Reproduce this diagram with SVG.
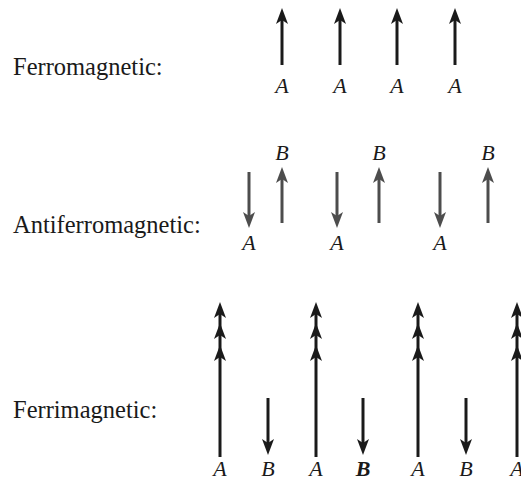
<svg xmlns="http://www.w3.org/2000/svg" width="521" height="481" viewBox="0 0 521 481">
<style>
.title{font-family:"Liberation Serif","Times New Roman",serif;font-size:24.5px;fill:#1a1a1a}
.lab{font-family:"Liberation Serif","Times New Roman",serif;font-size:22px;font-style:italic;fill:#1a1a1a;text-anchor:middle}
.bold{font-weight:bold}
.blk{stroke:#1a1a1a;stroke-width:3;fill:none;marker-end:url(#hb)}
.gry{stroke:#4d4d4d;stroke-width:3;fill:none;marker-end:url(#hg)}
.tri{stroke:#1a1a1a;stroke-width:3;fill:none;marker-mid:url(#hb);marker-end:url(#hb)}
</style>
<defs>
<marker id="hb" markerUnits="userSpaceOnUse" orient="auto" viewBox="-17 -7 18 14" markerWidth="18" markerHeight="14" refX="-12" refY="0" overflow="visible">
<path d="M0,0 L-16,-6 L-12,0 L-16,6 Z" fill="#1a1a1a"/>
</marker>
<marker id="hg" markerUnits="userSpaceOnUse" orient="auto" viewBox="-17 -7 18 14" markerWidth="18" markerHeight="14" refX="-12" refY="0" overflow="visible">
<path d="M0,0 L-16,-6 L-12,0 L-16,6 Z" fill="#4d4d4d"/>
</marker>
</defs>
<rect width="521" height="481" fill="#fff"/>
<g id="ferromagnetic">
<text class="title" x="13" y="75">Ferromagnetic:</text>
<text class="lab" x="282" y="93">A</text>
<text class="lab" x="340" y="93">A</text>
<text class="lab" x="397" y="93">A</text>
<text class="lab" x="455" y="93">A</text>
</g>
<g id="antiferromagnetic">
<text class="title" x="13" y="233">Antiferromagnetic:</text>
<text class="lab" x="282" y="160">B</text>
<text class="lab" x="379" y="160">B</text>
<text class="lab" x="488" y="160">B</text>
<text class="lab" x="249" y="250">A</text>
<text class="lab" x="337" y="250">A</text>
<text class="lab" x="440" y="250">A</text>
</g>
<g id="ferrimagnetic">
<text class="title" x="13" y="418">Ferrimagnetic:</text>
<text class="lab" x="220" y="476">A</text>
<text class="lab" x="268" y="476">B</text>
<text class="lab" x="316" y="476">A</text>
<text class="lab bold" x="363" y="476">B</text>
<text class="lab" x="418" y="476">A</text>
<text class="lab" x="466" y="476">B</text>
<text class="lab" x="517" y="476">A</text>
</g>
<g id="connectors">
<path class="blk" d="M282,65 V20"/>
<path class="blk" d="M340,65 V20"/>
<path class="blk" d="M397,65 V20"/>
<path class="blk" d="M455,65 V20"/>
<path class="gry" d="M249,172 V216"/>
<path class="gry" d="M337,172 V216"/>
<path class="gry" d="M440,172 V216"/>
<path class="gry" d="M282,223 V179"/>
<path class="gry" d="M379,223 V179"/>
<path class="gry" d="M488,223 V179"/>
<path class="tri" d="M220,457 V357 V335 V314"/>
<path class="tri" d="M316,457 V357 V335 V314"/>
<path class="tri" d="M418,457 V357 V335 V314"/>
<path class="tri" d="M517,457 V357 V335 V314"/>
<path class="blk" d="M268,398 V443"/>
<path class="blk" d="M363,398 V443"/>
<path class="blk" d="M466,398 V443"/>
</g>
</svg>
